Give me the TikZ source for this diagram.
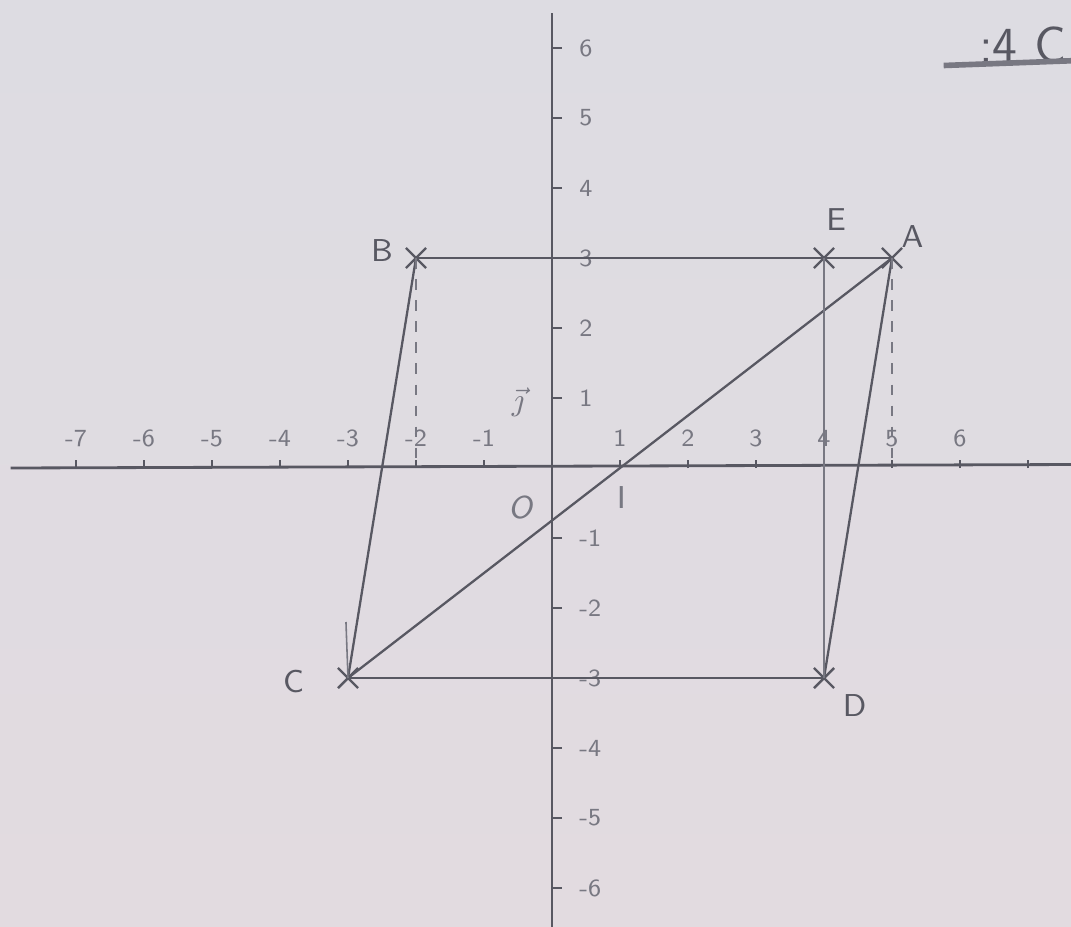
\documentclass[tikz,border=0pt]{standalone}
\usetikzlibrary{shapes.misc}
\definecolor{paper}{RGB}{221,220,226}
\definecolor{paperlow}{RGB}{226,219,224}
\definecolor{ink}{RGB}{88,88,98}
\definecolor{inklight}{RGB}{120,120,130}
\begin{document}
\begin{tikzpicture}[x=0.68cm,y=0.70cm,
  font=\sffamily,
  axisline/.style={draw=ink, line width=0.8pt},
  seg/.style={draw=ink, line width=0.65pt},
  thinseg/.style={draw=inklight, line width=0.45pt},
  guide/.style={draw=inklight, line width=0.45pt, dashed},
  pt/.style={cross out, draw=ink, line width=0.7pt, minimum size=5pt, inner sep=0pt},
  tick/.style={draw=ink, line width=0.6pt},
  ticklab/.style={text=inklight, font=\sffamily\scriptsize},
  ptlab/.style={text=ink, font=\sffamily\small}]
\useasboundingbox (-5.52cm,-4.58cm) rectangle (5.19cm,4.68cm);
\shade[top color=paper, bottom color=paperlow] (-5.52cm,-4.58cm) rectangle (5.19cm,4.68cm);
% axes
\coordinate (xl) at (-7.96,0);
\coordinate (xr) at (7.7,0.05);
\coordinate (yb) at (0,-6.7);
\coordinate (yt) at (0,6.5);
\draw[axisline] (xl) -- (xr);
\draw[axisline] (yb) -- (yt);
% x ticks
\foreach \i in {-7,-6,-5,-4,-3,-2,-1,1,2,3,4,5,6}{
  \draw[tick] (\i,0) -- (\i,0.12);
  \node[ticklab] at (\i,0.42) {\i};
}
\draw[tick] (7,0) -- (7,0.12);
% y ticks
\foreach \j in {-6,-5,-4,-3,-2,-1,1,2,3,4,5,6}{
  \draw[tick] (0,\j) -- (0.15,\j);
  \node[ticklab, anchor=west] at (0.22,\j) {\j};
}
% origin, unit labels
\node[ticklab, font=\sffamily\small\itshape] (O) at (-0.47,-0.56) {O};
\node[ticklab, font=\sffamily\small] (I) at (1.02,-0.42) {I};
\node[ticklab, font=\small] (J) at (-0.5,0.94) {$\vec{\jmath}$};
% points
\node[pt] (B) at (-2,3) {};
\node[pt] (E) at (4,3) {};
\node[pt] (A) at (5,3) {};
\node[pt] (C) at (-3,-3) {};
\node[pt] (D) at (4,-3) {};
\coordinate (Bx) at (-2,0);
\coordinate (Ax) at (5,0);
\coordinate (Cu) at (-3.03,-2.2);
% labels
\node[ptlab] at (-2.5,3.1) {B};
\node[ptlab] at (4.18,3.55) {E};
\node[ptlab] at (5.3,3.3) {A};
\node[ptlab] at (-3.8,-3.05) {C};
\node[ptlab] at (4.45,-3.4) {D};
% segments
\draw[seg] (B.center) -- (E.center) -- (A.center);
\draw[seg] (A.center) -- (C.center);
\draw[seg] (B.center) -- (C.center);
\draw[seg] (A.center) -- (D.center);
\draw[seg] (C.center) -- (D.center);
\draw[thinseg] (E.center) -- (D.center);
\draw[guide] (B.center) -- (Bx);
\draw[guide] (A.center) -- (Ax);
\draw[thinseg] (C.center) -- (Cu);
% top right heading
\node[text=ink, anchor=west, font=\sffamily\Large] (H) at (6.1,6.05) {:4 C};
\coordinate (ul) at (5.76,5.75);
\coordinate (ur) at (7.7,5.82);
\draw[draw=inklight, line width=1.6pt] (ul) -- (ur);
\end{tikzpicture}
\end{document}
